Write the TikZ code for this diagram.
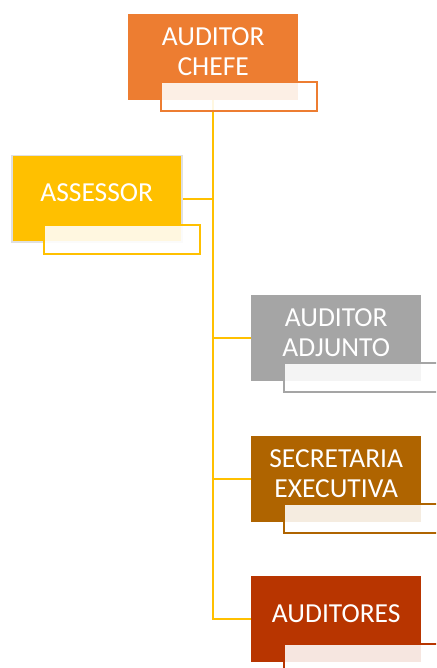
\documentclass[tikz,border=0pt]{standalone}
\usepackage{fontspec}
\setmainfont{Carlito}
\definecolor{laranja}{RGB}{237, 125, 49}
\definecolor{ouro}{RGB}{255, 192, 0}
\definecolor{cinza}{RGB}{165, 165, 165}
\definecolor{marrom}{RGB}{175, 100, 0}
\definecolor{ferrugem}{RGB}{184, 53, 0}
\usetikzlibrary{positioning, backgrounds}

\begin{document}
\begin{tikzpicture}[x=1pt, y=-1pt,
    cargo/.style={fill=#1, minimum width=170pt, minimum height=86pt, inner sep=0pt, anchor=north west},
    rotulo/.style={draw=#1, line width=2pt, fill=white, fill opacity=0.88, minimum width=156pt, minimum height=29pt, inner sep=0pt, anchor=north west},
    texto/.style={text=white, align=center, font=\fontsize{27.5}{30}\selectfont, inner sep=0pt},
    linha/.style={draw=ouro, line width=2pt}]
    \useasboundingbox (0,0) rectangle (436,668);
    \clip (0,0) rectangle (436,668);

    % Boxes
    \node[cargo=laranja] (chefe) at (128,14) {};
    \node[cargo=ouro, draw=black!12, line width=1.5pt] (assessor) at (11,155) {};
    \node[cargo=cinza] (adjunto) at (251,295) {};
    \node[cargo=marrom] (secretaria) at (251,436) {};
    \node[cargo=ferrugem] (auditores) at (251,576) {};

    % Names
    \node[texto] (chefe-txt) at ([yshift=6pt]chefe.center) {AUDITOR\\CHEFE};
    \node[texto] (assessor-txt) at ([yshift=6pt]assessor.center) {ASSESSOR};
    \node[texto] (adjunto-txt) at ([yshift=6pt]adjunto.center) {AUDITOR\\ADJUNTO};
    \node[texto] (secretaria-txt) at ([yshift=6pt]secretaria.center) {SECRETARIA\\EXECUTIVA};
    \node[texto] (auditores-txt) at ([yshift=6pt]auditores.center) {AUDITORES};

    % Empty label boxes
    \node[rotulo=laranja] (chefe-rot) at ([xshift=32pt, yshift=19pt]chefe.south west) {};
    \node[rotulo=ouro] (assessor-rot) at ([xshift=32pt, yshift=19pt]assessor.south west) {};
    \node[rotulo=cinza] (adjunto-rot) at ([xshift=32pt, yshift=19pt]adjunto.south west) {};
    \node[rotulo=marrom] (secretaria-rot) at ([xshift=32pt, yshift=19pt]secretaria.south west) {};
    \node[rotulo=ferrugem] (auditores-rot) at ([xshift=32pt, yshift=19pt]auditores.south west) {};

    % Connectors
    \begin{scope}[on background layer]
        \draw[linha] (chefe.south) -- (chefe.south |- auditores.west) -- (auditores.west);
        \draw[linha] (assessor.east) -- (assessor.east -| chefe.south);
        \draw[linha] (adjunto.west) -- (adjunto.west -| chefe.south);
        \draw[linha] (secretaria.west) -- (secretaria.west -| chefe.south);
    \end{scope}
\end{tikzpicture}
\end{document}
